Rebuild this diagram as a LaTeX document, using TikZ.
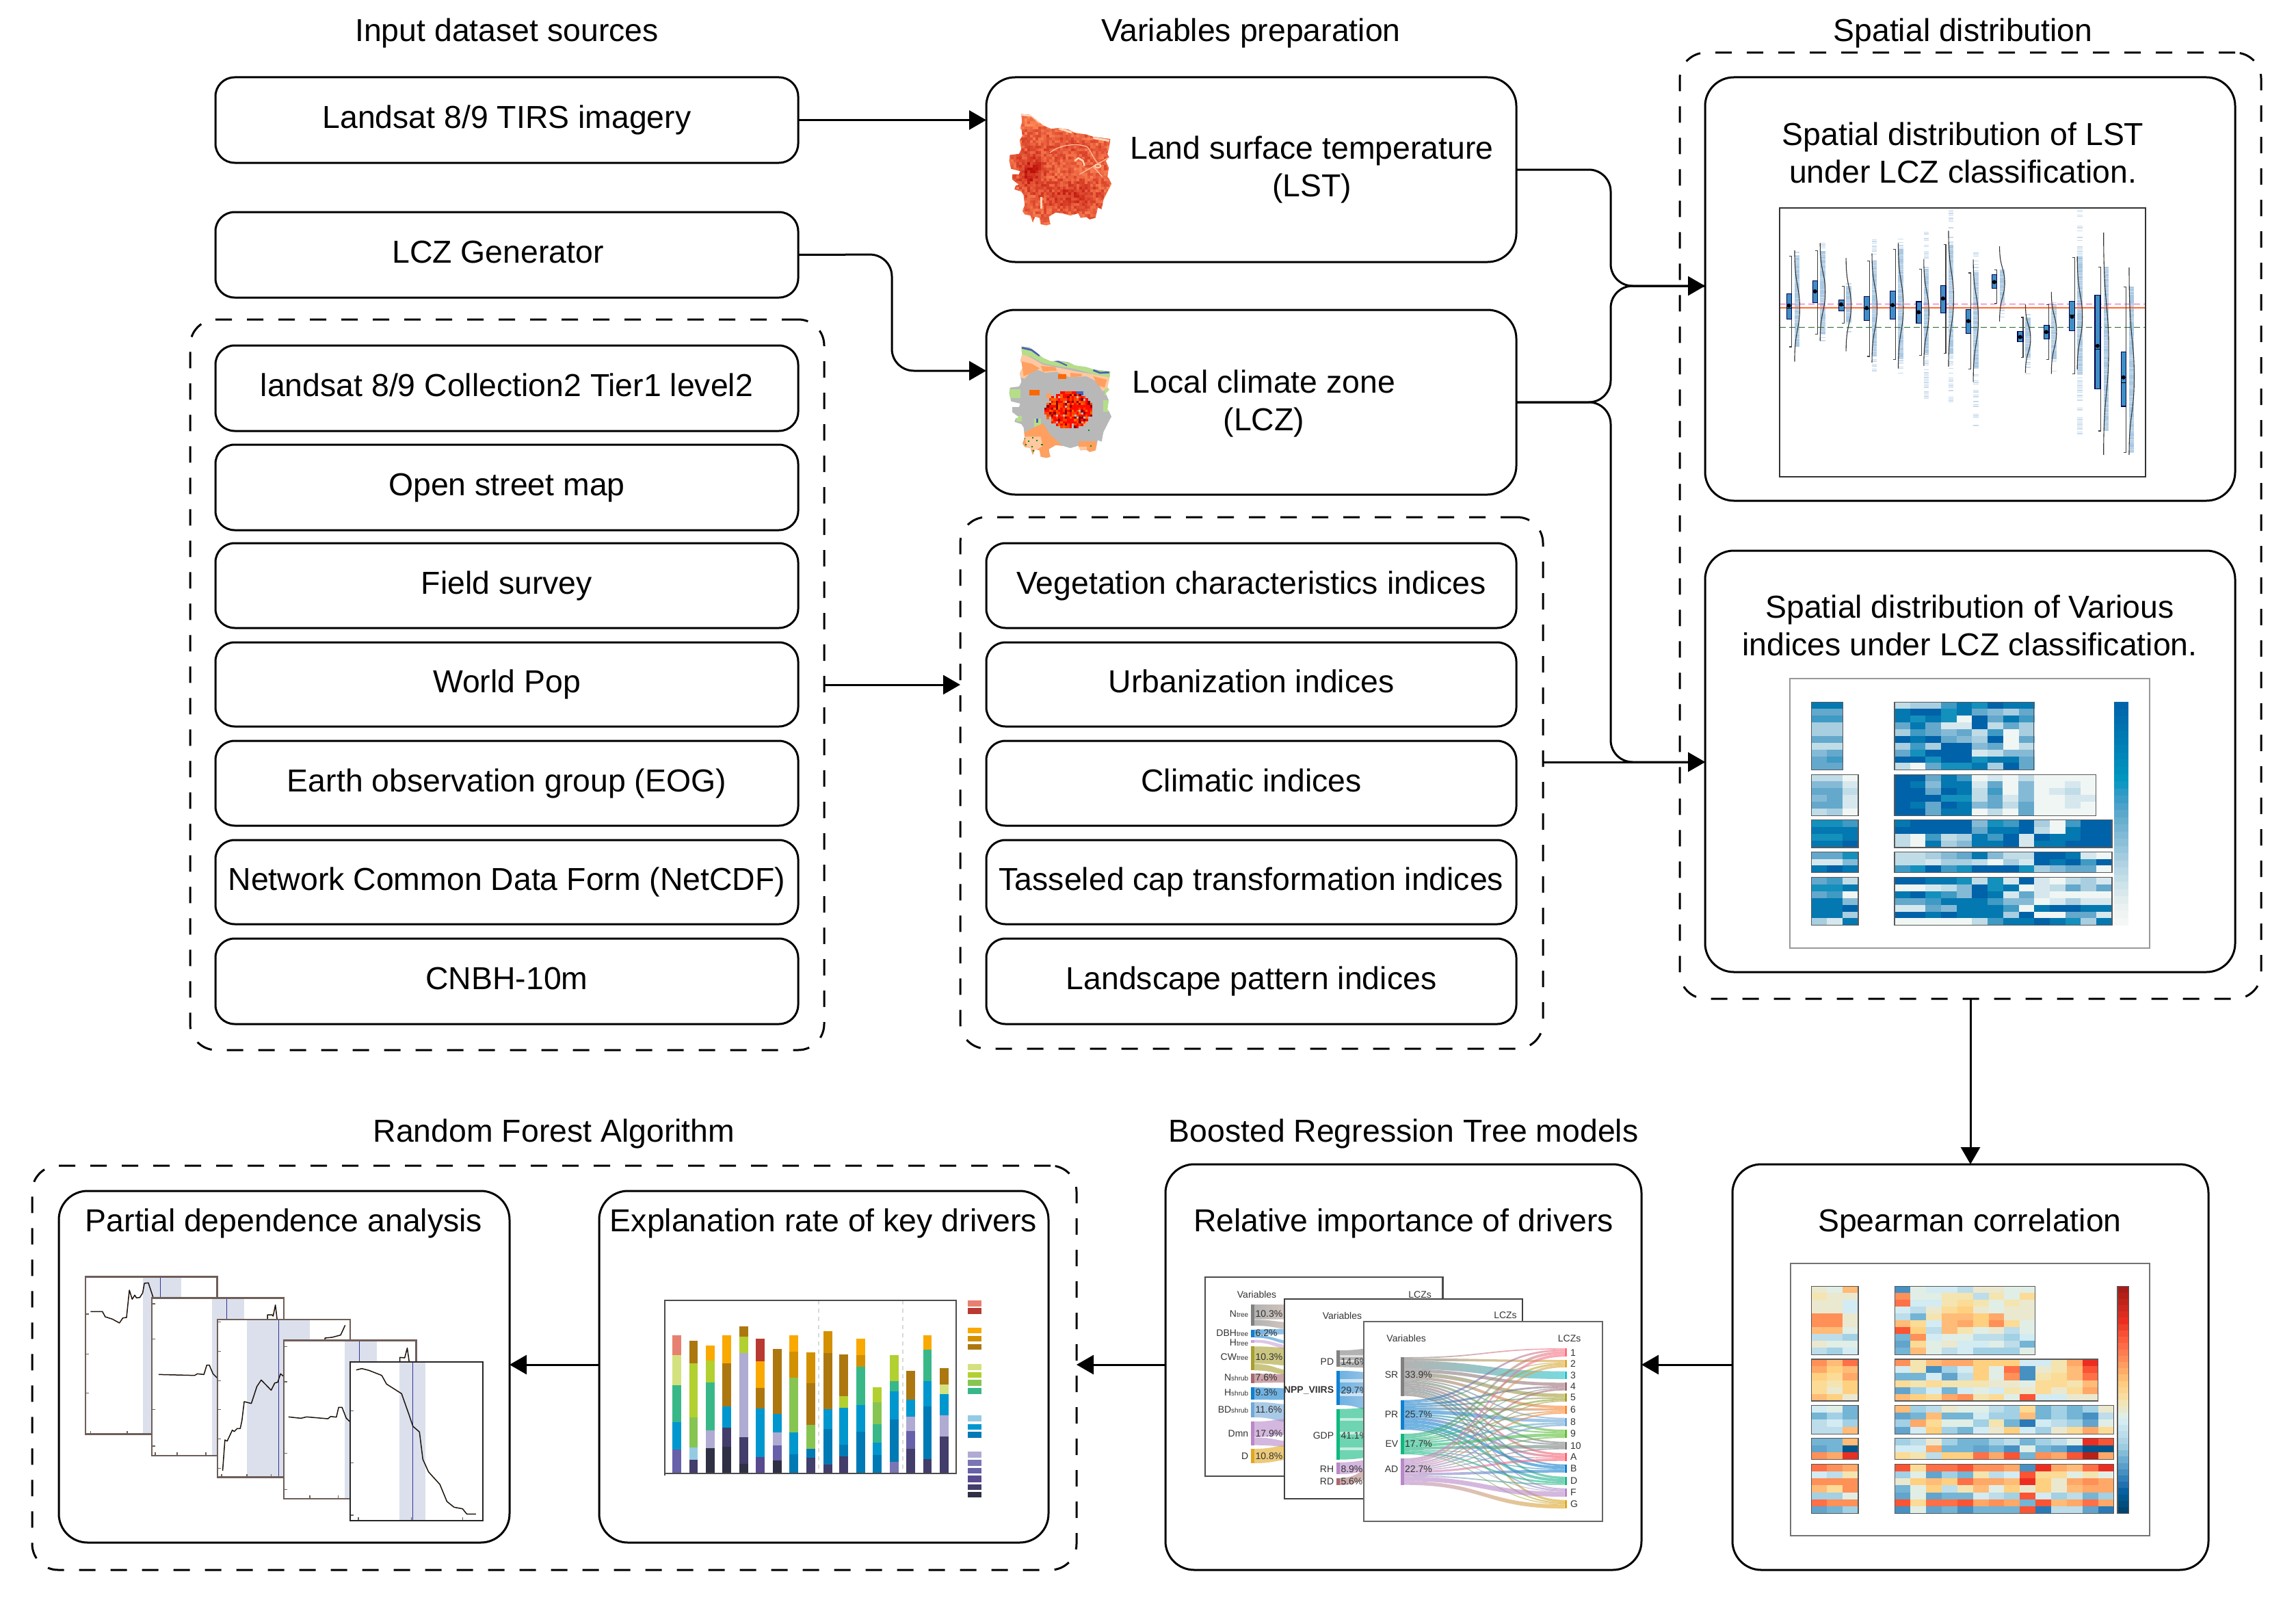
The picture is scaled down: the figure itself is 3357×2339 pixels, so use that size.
\documentclass[tikz,border=0pt]{standalone}
\usepackage{fontspec}
\setmainfont{Liberation Sans}
\usetikzlibrary{arrows.meta}
% blue heatmap palette
\definecolor{hb0}{HTML}{F0F6F4}\definecolor{hb1}{HTML}{D6E8EE}\definecolor{hb2}{HTML}{C0DCE6}
\definecolor{hb3}{HTML}{A8CEE0}\definecolor{hb4}{HTML}{85BAD6}\definecolor{hb5}{HTML}{64A8CC}
\definecolor{hb6}{HTML}{3F9AC4}\definecolor{hb7}{HTML}{1490BD}\definecolor{hb8}{HTML}{0478B0}\definecolor{hb9}{HTML}{0062A8}
% diverging palette
\definecolor{hr0}{HTML}{02558A}\definecolor{hr1}{HTML}{2A7AB8}\definecolor{hr2}{HTML}{4790C2}\definecolor{hr3}{HTML}{62A4CC}
\definecolor{hr4}{HTML}{74B4D4}\definecolor{hr5}{HTML}{A2D0E4}\definecolor{hr6}{HTML}{BCDDE9}\definecolor{hr7}{HTML}{D3EBF2}
\definecolor{hr8}{HTML}{E0EEE6}\definecolor{hr9}{HTML}{EBE8D0}\definecolor{hr10}{HTML}{F4E4B0}\definecolor{hr11}{HTML}{FBDB96}
\definecolor{hr12}{HTML}{FFD080}\definecolor{hr13}{HTML}{FFBC78}\definecolor{hr14}{HTML}{FFA868}\definecolor{hr15}{HTML}{FF9058}
\definecolor{hr16}{HTML}{FF7048}\definecolor{hr17}{HTML}{FA5434}\definecolor{hr18}{HTML}{EC2E22}\definecolor{hr19}{HTML}{B82018}
% stacked bars palette
\definecolor{bsal}{HTML}{E88072}\definecolor{bred}{HTML}{B93A32}\definecolor{org}{HTML}{FAA900}\definecolor{dor}{HTML}{D39000}
\definecolor{brn}{HTML}{AD7710}\definecolor{lim}{HTML}{D3E27F}\definecolor{lma}{HTML}{B2D030}\definecolor{grn}{HTML}{87C553}
\definecolor{teg}{HTML}{38B888}\definecolor{lbl}{HTML}{94CBE3}\definecolor{blu}{HTML}{0097CF}\definecolor{dbl}{HTML}{007AB5}
\definecolor{lav}{HTML}{AFABD2}\definecolor{pua}{HTML}{7A76B4}\definecolor{pub}{HTML}{6661A8}\definecolor{puc}{HTML}{594A90}
\definecolor{pud}{HTML}{423D6A}\definecolor{pue}{HTML}{2F3044}
% sankey colours
\definecolor{sgray}{HTML}{808080}\definecolor{sblue}{HTML}{1080D0}\definecolor{sgreen}{HTML}{10B880}\definecolor{spurp}{HTML}{B888C8}
\definecolor{tc1}{HTML}{FF7080}\definecolor{tc2}{HTML}{E0A830}\definecolor{tc3}{HTML}{20C0C8}\definecolor{tc4}{HTML}{A07078}
\definecolor{tc5}{HTML}{A8A030}\definecolor{tc6}{HTML}{FF8830}\definecolor{tc7}{HTML}{70A8D8}\definecolor{tc8}{HTML}{60C030}
\definecolor{tc9}{HTML}{808080}\definecolor{tc10}{HTML}{FF6070}\definecolor{tc11}{HTML}{1080D0}\definecolor{tc12}{HTML}{20B888}
\definecolor{tc13}{HTML}{B888C8}\definecolor{tc14}{HTML}{E0A820}
\definecolor{solive}{HTML}{A8A030}\definecolor{srose}{HTML}{A86870}\definecolor{ssteel}{HTML}{70A8D8}\definecolor{sgold}{HTML}{E0A820}
\definecolor{stan}{HTML}{C8A898}\definecolor{slil}{HTML}{C8A0D8}
% map and plot colours
\definecolor{lstA}{HTML}{BE0F0A}\definecolor{lstB}{HTML}{FF8A58}\definecolor{lstL}{HTML}{FFD8B8}
\definecolor{lczG}{HTML}{B8B8B8}\definecolor{lczO}{HTML}{FFA060}\definecolor{lczP}{HTML}{FFC8A0}\definecolor{lczL}{HTML}{B4DE88}\definecolor{lczB}{HTML}{4C60B8}
\definecolor{boxblue}{HTML}{3F8FC4}\definecolor{stripc}{HTML}{A9C8E2}\definecolor{pdband}{HTML}{DBE0EC}\definecolor{pdframe}{HTML}{6E5E58}
\tikzset{
  txt/.style={font=\fontsize{46.4}{55}\selectfont,align=center,inner sep=0pt},
  smallbox/.style={draw=black,line width=3pt,rounded corners=28pt,inner sep=0pt,outer sep=0pt,font=\fontsize{46.4}{55}\selectfont,align=center},
  bigbox/.style={smallbox,rounded corners=42pt},
  dashbox/.style={draw=black,line width=3pt,rounded corners=38pt,dash pattern=on 24pt off 22pt,inner sep=0pt,outer sep=0pt},
  conn/.style={draw=black,line width=3pt,-{Triangle[length=25pt,width=28pt]}},
  line/.style={draw=black,line width=3pt},
  hframe/.style={draw=black!65,line width=1.6pt},
  skt/.style={font=\fontsize{14}{16}\selectfont,text=black!80,inner sep=0pt},
  skr/.style={skt,anchor=east},
  skl/.style={skt,anchor=west},
  zoomC/.style={shift={(1740,1850)},x=0.43365pt,y=-0.33333pt},
  mapframe/.style={x=0.33333pt,y=-0.33333pt},
}
\newcommand\mapoutline{(85,35)--(120,38)--(150,60)--(180,85)--(215,100)--(250,97)--(290,103)--(320,118)--(370,125)--(400,135)--(440,140)--(475,145)--(470,180)--(462,210)--(470,225)--(455,240)--(468,270)--(462,310)--(470,320)--(480,342)--(465,370)--(445,410)--(437,452)--(420,445)--(410,490)--(385,497)--(370,487)--(345,490)--(335,470)--(300,480)--(265,470)--(235,467)--(205,485)--(212,518)--(195,523)--(170,518)--(165,490)--(145,485)--(135,510)--(125,480)--(100,475)--(90,460)--(100,435)--(95,390)--(85,375)--(55,365)--(60,350)--(75,345)--(45,322)--(45,300)--(75,300)--(80,285)--(40,275)--(32,240)--(35,215)--(75,210)--(85,190)--(78,150)--(90,130)--(85,100)--(80,100)--(88,70)--cycle}
\newcommand\boxnode[7]{\node[#6,minimum width={(#4-#2)*1pt},minimum height={(#5-#3)*1pt}] (#1) at ({(#2+#4)/2},{(#3+#5)/2}) {#7\vphantom{(gy}};}
\newcommand\heatblock[6]{\foreach \rw [count=\hi from 0] in {#6}{\foreach \cv [count=\hj from 0] in \rw {\fill[fill=#5\cv] ({#1+\hj*#3},{#2+\hi*#4}) rectangle +({#3+0.7},{#4+0.7});}}}
\newcommand\cbar[6]{\pgfmathsetmacro\cbs{(#4-#2)/#5}\foreach \hx [count=\hi from 0] in {#6}{\definecolor{cbtmp}{HTML}{\hx}\fill[fill=cbtmp] (#1,{#2+\hi*\cbs}) rectangle (#3,{#2+(\hi+1.05)*\cbs});}}
\newcommand\sflow[8]{\path[left color=#1,right color=#2,fill opacity=.6] (#3,#4) .. controls ({(#3+#6)/2},#4) and ({(#3+#6)/2},#7) .. (#6,#7) -- (#6,#8) .. controls ({(#3+#6)/2},#8) and ({(#3+#6)/2},#5) .. (#3,#5) -- cycle;}
\newcommand\srcflows[5]{\xdef\cury{#2}\pgfmathsetmacro\fac{#3/#4}\foreach \flw [count=\ii] in {#5}{\ifnum\flw>0\relax
  \pgfmathsetmacro\yend{\cury+\flw*\fac}\pgfmathsetmacro\tpa{\csname tp\ii\endcsname}\pgfmathsetmacro\tpb{\tpa+\flw}
  \sflow{#1}{tc\ii}{722}{\cury}{\yend}{1263}{\tpa}{\tpb}
  \expandafter\xdef\csname tp\ii\endcsname{\tpb}\xdef\cury{\yend}\fi}}
\newcommand\stackbar[3]{\xdef\curtop{#2}\foreach \cc/\bt in {#3}{\fill[fill=\cc] ({#1-19.5},\curtop) rectangle ({#1+19.5},\bt);\xdef\curtop{\bt}}}
\newcommand\pdpanel[7]{\fill[white] (#1,#2) rectangle (#3,#4);\fill[pdband] (#5,#2) rectangle (#6,#4);\draw[blue!50!black!80,line width=1.4pt] (#7,#2) -- (#7,#4);}
\newcommand\subt[2]{#1{\fontsize{10}{10}\selectfont #2}}
\begin{document}
\begin{tikzpicture}[x=1pt,y=-1pt]
\useasboundingbox (0,0) rectangle (3357,2339);
\fill[white] (0,0) rectangle (3357,2339);
% titles
\node[txt] (t1) at (741,49) {Input dataset sources};
\node[txt] (t2) at (1829,49) {Variables preparation};
\node[txt] (t3) at (2870,49) {Spatial distribution};
\node[txt] (t4) at (810,1657) {Random Forest Algorithm};
\node[txt] (t5) at (2052,1657) {Boosted Regression Tree models};
% dashed groups
\boxnode{dl}{278}{467}{1205}{1535}{dashbox}{}
\boxnode{dm}{1404}{756}{2256}{1533}{dashbox}{}
\boxnode{dr}{2456}{77}{3306}{1460}{dashbox}{}
\boxnode{db}{47}{1704}{1574}{2295}{dashbox}{}
% source boxes
\boxnode{landsat}{315}{113}{1167}{238}{smallbox}{Landsat 8/9 TIRS imagery}
\boxnode{gen}{315}{310}{1167}{435}{smallbox}{\hspace*{-26pt}LCZ Generator}
\boxnode{c1}{315}{505}{1167}{630}{smallbox}{landsat 8/9 Collection2 Tier1 level2}
\boxnode{c2}{315}{650}{1167}{775}{smallbox}{Open street map}
\boxnode{c3}{315}{794}{1167}{918}{smallbox}{Field survey}
\boxnode{c4}{315}{939}{1167}{1062}{smallbox}{World Pop}
\boxnode{c5}{315}{1083}{1167}{1207}{smallbox}{Earth observation group (EOG)}
\boxnode{c6}{315}{1228}{1167}{1351}{smallbox}{Network Common Data Form (NetCDF)}
\boxnode{c7}{315}{1372}{1167}{1497}{smallbox}{CNBH-10m}
% variable boxes
\boxnode{lst}{1442}{113}{2217}{383}{bigbox}{}
\boxnode{lcz}{1442}{453}{2217}{723}{bigbox}{}
\node[txt] (lsttxt) at (1918,248) {Land surface temperature\\(LST)};
\node[txt] (lcztxt) at (1848,590) {Local climate zone\\(LCZ)};
\boxnode{m1}{1442}{794}{2217}{918}{smallbox}{Vegetation characteristics indices}
\boxnode{m2}{1442}{939}{2217}{1062}{smallbox}{Urbanization indices}
\boxnode{m3}{1442}{1083}{2217}{1207}{smallbox}{Climatic indices}
\boxnode{m4}{1442}{1228}{2217}{1351}{smallbox}{Tasseled cap transformation indices}
\boxnode{m5}{1442}{1372}{2217}{1497}{smallbox}{Landscape pattern indices}
% spatial boxes
\boxnode{s1}{2493}{113}{3268}{732}{bigbox}{}
\boxnode{s2}{2493}{805}{3268}{1421}{bigbox}{}
\node[txt] (s1txt) at (2870,223) {Spatial distribution of LST\\under LCZ classification.};
\node[txt] (s2txt) at (2880,914) {Spatial distribution of Various\\indices under LCZ classification.};
% bottom boxes
\boxnode{spear}{2533}{1702}{3229}{2295}{bigbox}{}
\boxnode{rel}{1704}{1702}{2400}{2295}{bigbox}{}
\boxnode{expl}{876}{1741}{1533}{2255}{bigbox}{}
\boxnode{pda}{86}{1741}{745}{2255}{bigbox}{}
\node[txt] (speartxt) at (2880,1788) {Spearman correlation};
\node[txt] (reltxt) at (2052,1788) {Relative importance of drivers};
\node[txt] (expltxt) at (1204,1788) {Explanation rate of key drivers};
\node[txt] (pdatxt) at (415,1788) {Partial dependence analysis};
% connectors
\coordinate (lczin) at (1442,542);
\coordinate (s1in) at (2493,418);
\coordinate (s2in) at (2493,1114);
\coordinate (dmout) at (2256,1114);
\coordinate (busx) at (2355,588);
\coordinate (row) at (0,1995);
\draw[conn] (landsat.east) -- (landsat.east -| lst.west);
\draw[conn,rounded corners=32pt] (gen.east) -- (1304,372) -- (1304,542) -- (lczin);
\draw[conn,rounded corners=32pt] (lst.east) -- (2355,248) -- (2355,418) -- (s1in);
\draw[line,rounded corners=32pt] (lcz.east) -- (busx) -- (2355,418) -- (s1in);
\draw[conn,rounded corners=32pt] (lcz.east) -- (busx) -- (2355,1114) -- (s2in);
\draw[conn] (dl.east) -- (dl.east -| dm.west);
\draw[conn] (dmout) -- (s2in);
\draw[conn] (dr.south) -- (spear.north);
\draw[conn] (spear.west |- row) -- (rel.east |- row);
\draw[conn] (rel.west |- row) -- (db.east |- row);
\draw[conn] (expl.west |- row) -- (pda.east |- row);
% ---------- LST map
\begin{scope}[shift={(1465,155)},mapframe]
\clip \mapoutline;
\fill[lstB] (20,20) rectangle (490,530);
\pgfmathsetseed{4242}
\foreach \cx in {28,40,...,484}{\foreach \cy in {30,42,...,522}{
 \pgfmathsetmacro\pp{int(min(100,max(0,5+50*rnd+55*exp(0-((\cx-120)/55)^2-((\cy-285)/70)^2)+40*exp(0-((\cx-300)/120)^2-((\cy-385)/60)^2)+15*exp(0-((\cx-250)/170)^2-((\cy-190)/60)^2)-(\cy<90?15:0))))}
 \fill[fill=lstA!\pp!lstB] (\cx,\cy) rectangle ++(12.5,12.5);}}
\draw[lstL!70!lstB,line width=1.2pt] (210,205) .. controls (250,170) and (330,160) .. (375,180) .. controls (395,205) and (400,230) .. (420,250);
\draw[lstL!70!lstB,line width=1.2pt] (340,300) -- (400,265) -- (470,225);
\draw[lstL!70!lstB,line width=1.2pt] (400,265) -- (440,310);
\draw[lstL,line width=2.4pt] (320,240) -- (335,228) -- (355,240) -- (362,262);
\draw[lstL,line width=1.6pt] (420,263) ellipse[x radius=13,y radius=8];
\draw[lstL,line width=3pt] (172,400) -- (172,450);
\draw[lstL,line width=3pt] (85,38) -- (130,42) -- (165,72);
\draw[lstL,line width=3pt] (250,98) -- (305,116);
\draw[lstL,line width=3pt] (400,140) -- (470,152);
\end{scope}
% ---------- LCZ map
\begin{scope}[shift={(1465,495)},mapframe]
\clip \mapoutline;
\fill[lczG] (20,20) rectangle (490,530);
% peach and orange belts
\fill[lczP] (78,60)--(130,85)--(180,115)--(260,130)--(330,145)--(480,170)--(470,225)--(440,230)--(420,190)--(370,165)--(300,170)--(240,145)--(190,150)--(140,130)--(100,175)--(78,170)--cycle;
\fill[lczO] (85,100)--(130,110)--(165,130)--(130,150)--(95,165)--cycle;
\fill[lczO] (400,165)--(460,180)--(450,215)--(420,205)--cycle;
\fill[lczO] (170,120)--(235,125)--(240,140)--(180,145)--cycle;
\fill[lczO] (300,150)--(350,155)--(350,165)--(300,170)--cycle;
\fill[orange!80!red] (245,155) rectangle (282,178);
\fill[lczL] (85,30)--(150,52)--(215,92)--(320,112)--(480,142)--(480,172)--(400,155)--(320,133)--(250,122)--(180,108)--(130,80)--(85,68)--cycle;
\fill[lczL] (30,222) rectangle (82,262);
\fill[lczL] (62,340) rectangle (88,362);
\fill[lczL] (450,220) rectangle (480,250);
\fill[lczL] (445,270) rectangle (480,320);
\fill[lczL] (140,350) rectangle (170,400);
\draw[lczB,line width=2.8pt] (88,40) -- (130,50) -- (165,75);
\draw[lczB,line width=2pt] (215,92) -- (250,102) -- (285,118);
\draw[lczB,line width=2.8pt] (400,138) -- (430,150) -- (470,148);
\fill[lczB] (320,230) rectangle (358,248);
\fill[lczB] (150,350) rectangle (158,368);
% lower orange patches
\fill[lczO] (92,415)--(150,385)--(180,372)--(210,420)--(265,470)--(205,490)--(215,530)--(160,530)--(100,480)--(88,450)--cycle;
\fill[lczP] (100,430)--(170,430)--(178,470)--(150,490)--(110,480)--cycle;
\fill[lczO] (335,450)--(412,450)--(420,500)--(340,498)--cycle;
\fill[lczP] (335,475) rectangle (372,498);
\fill[orange!80!red] (120,225) rectangle (165,250);
\fill[lczO] (195,240) rectangle (215,262);
\fill[lczO] (350,362) rectangle (372,378);
\foreach \gx/\gy in {95/435,114/448,102/462,128/470,118/482,135/488,150/445,172/462,132/432,378/398,386/468}{\fill[green!55!black] (\gx,\gy) rectangle ++(7,6);}
% urban core
\pgfmathsetseed{77}
\foreach \cx in {186,196,...,396}{\foreach \cy in {222,232,...,394}{
 \pgfmathsetmacro\pp{int(100*rnd)}
 \pgfmathsetmacro\dd{((\cx-288)/108)^2+((\cy-308)/84)^2+0.25*(abs(\cx-288)/108)*(abs(\cy-308)/84)}
 \ifdim\dd pt<1pt
  \ifnum\pp<38 \fill[fill=red!92!orange] (\cx,\cy) rectangle ++(10.5,10.5);\else
  \ifnum\pp<62 \fill[fill=orange!50!red] (\cx,\cy) rectangle ++(10.5,10.5);\else
  \ifnum\pp<76 \fill[fill=red!55!black] (\cx,\cy) rectangle ++(10.5,10.5);\else
  \ifnum\pp<90 \fill[fill=orange!80!red] (\cx,\cy) rectangle ++(10.5,10.5);\fi\fi\fi\fi
 \fi}}
\end{scope}
% ---------- Violin plot
\begin{scope}[shift={(2450,250)},x=0.574pt,y=-0.33333pt]
\fill[white] (264,163) rectangle (1196,1340);
\pgfmathsetseed{99}
\foreach \Vx/\Wt/\Wb/\St/\Sb in {303/373/771/348/770,368/350/715/315/745,434/505/667/465/720,500/395/813/300/885,567/343/826/290/890,632/430/808/232/1000,695/323/800/170/1010,758/447/868/330/1123,825/433/580/435/640,891/642/817/628/902,957/586/826/575/890,1023/379/890/170/1165,1090/421/1140/420/1140,1155/508/1235/505/1235}{
 \fill[stripc] (\Vx,\Wt) rectangle ({\Vx+13},\Wb);
 \pgfmathsetmacro\Stn{\St+7}
 \foreach \yy in {\St,\Stn,...,\Sb}{\pgfmathsetmacro\kp{int(100*rnd)}
  \ifnum\kp<60 \fill[stripc!65!white] (\Vx,\yy) rectangle ({\Vx+13},{\yy+4});\fi}
}
\draw[magenta!70!white,line width=1.5pt,dash pattern=on 9pt off 5pt] (264,583) -- (1196,583);
\draw[red!45!orange!80!white,line width=2.4pt] (264,600) -- (1196,600);
\draw[green!30!black!85,line width=1.5pt,dash pattern=on 9pt off 5pt] (264,686) -- (1196,686);
\foreach \Bl/\Br/\Bt/\Bb/\Mn/\Md/\Wt/\Wb/\Vx/\Vt/\Vb/\Vm in {283/295/538/650/590/600/373/771/303/348/836/600,349/362/481/578/528/525/350/715/368/316/745/530,415/429/565/614/585/588/505/667/434/381/791/590,480/494/550/656/601/603/395/813/500/362/840/600,546/560/526/650/588/590/343/826/567/316/866/595,613/626/573/667/619/621/430/808/632/386/855/620,675/688/503/622/559/561/323/800/695/262/858/560,740/752/607/712/658/662/447/868/758/388/925/650,806/818/454/515/487/485/433/580/825/330/660/490,871/885/703/749/728/730/642/817/891/585/885/735,938/951/676/737/706/708/586/826/957/530/890/705,1003/1017/571/700/639/630/379/890/1023/375/870/640,1068/1082/544/955/767/780/421/1140/1090/270/1245/780,1135/1147/793/1032/905/928/508/1235/1155/423/1245/900}{
 \draw[black!75,line width=1.1pt] ({\Br-6},\Wt) -- (\Br,\Wt) -- (\Br,\Wb) -- ({\Br-6},\Wb);
 \draw[black!80,line width=1.1pt] (\Vx,\Vt) .. controls (\Vx,{\Vm-0.2*(\Vb-\Vt)}) and ({\Vx+13},{\Vm-0.2*(\Vb-\Vt)}) .. ({\Vx+13},\Vm) .. controls ({\Vx+13},{\Vm+0.2*(\Vb-\Vt)}) and (\Vx,{\Vm+0.2*(\Vb-\Vt)}) .. (\Vx,\Vb);
 \draw[fill=boxblue,draw=black!70!blue,line width=1.3pt] (\Bl,\Bt) rectangle (\Br,\Bb);
 \draw[black,line width=1pt] (\Bl,\Md) -- (\Br,\Md);
 \fill[black] ({(\Bl+\Br)/2-0.5},\Mn) circle[radius=3pt];
}
\draw[draw=black!80,line width=2pt] (264,163) rectangle (1196,1340);
\end{scope}
% ---------- Blue heatmap
\begin{scope}[shift={(2500,950)},x=0.5102pt,y=-0.33333pt]
\draw[draw=black!40,line width=2pt] (230,127) rectangle (1260,1308);
\heatblock{291}{229}{45}{29.7}{hb}{{8,8},{5,5},{6,6},{3,3},{3,3},{5,5},{2,2},{4,5},{5,6},{5,5}}
\heatblock{529}{229}{44.5}{29.7}{hb}{{2,3,3,6,8,7,9,8,8},{8,9,9,7,8,5,4,3,5},{8,7,8,7,0,9,5,8,6},{5,8,5,1,1,9,2,5,3},{3,6,5,4,5,2,6,0,3},{9,8,9,5,4,3,9,0,5},{3,6,3,9,9,4,5,0,2},{5,7,9,9,9,1,2,4,4},{9,9,7,9,9,7,8,8,5},{2,0,5,7,7,8,3,9,5}}
\heatblock{291}{547}{44.7}{30}{hb}{{2,2,0},{4,4,1},{5,5,2},{4,5,1},{5,5,1},{2,3,0}}
\heatblock{529}{547}{44.4}{30}{hb}{{9,9,5,8,6,0,1,0,2,0,0,0,0},{9,8,4,8,8,1,5,0,4,0,0,1,0},{9,9,5,9,8,2,6,0,4,0,1,2,0},{9,9,9,7,7,2,5,1,4,0,0,1,1},{9,8,5,9,8,4,5,2,5,0,0,1,0},{9,9,5,8,8,0,2,0,5,0,0,0,0}}
\heatblock{291}{745}{44.7}{30.5}{hb}{{7,7,6},{8,8,8},{7,7,8},{8,8,9}}
\heatblock{529}{745}{44.5}{30.5}{hb}{{8,9,9,9,9,4,7,6,9,3,0,6,9,9},{9,9,9,9,9,5,8,8,9,2,0,8,9,9},{2,0,6,2,3,8,6,9,1,9,8,8,9,9},{2,0,8,3,4,8,8,9,1,8,8,9,9,9}}
\heatblock{291}{887}{44.7}{29.7}{hb}{{5,5,7},{1,1,4},{8,9,8}}
\heatblock{529}{887}{44.5}{29.7}{hb}{{2,2,3,4,5,8,4,2,2,9,9,8,1,0},{2,2,1,3,3,2,0,3,1,9,8,9,6,9},{6,7,9,6,7,9,9,9,7,3,4,5,5,0}}
\heatblock{291}{998}{44.7}{29.9}{hb}{{5,6,2},{7,7,8},{5,6,0},{8,8,4},{8,8,9},{8,8,3},{3,1,8}}
\heatblock{529}{998}{44.5}{29.9}{hb}{{9,9,8,8,7,2,7,1,9,1,0,2,3,1},{0,0,1,2,4,9,7,8,0,1,2,5,3,5},{8,9,7,6,4,9,8,1,5,1,0,0,0,0},{5,5,6,8,8,8,6,4,4,0,1,3,1,1},{1,1,5,4,8,8,8,6,0,8,9,9,8,8},{9,9,8,9,8,8,8,3,9,0,0,5,5,1},{0,0,0,0,0,2,6,8,8,9,8,7,3,8}}
\foreach \xa/\ya/\xb/\yb in {291/229/381/526,529/229/928/526,291/547/425/727,529/547/1106/727,291/745/425/867,529/745/1152/867,291/887/425/976,529/887/1152/976,291/998/425/1207,529/998/1152/1207}{\draw[hframe] (\xa,\ya) rectangle (\xb,\yb);}
\cbar{1159}{229}{1200}{1207}{31}{0064AA,0068AC,006EAE,0072B0,0078B2,007CB4,0082B6,0086B8,008CBA,0090BC,0096C0,1098C2,2C9AC6,3C9EC8,4CA2CA,5CA8CC,68AECF,74B4D2,80BAD6,8CC0D8,98C6DC,A4CCE0,B0D2E2,BAD8E6,C4DEE8,CEE3EA,D8E8EC,E2EDEE,EAF1F0,F0F4F2,F4F7F5}
\end{scope}
% ---------- Spearman heatmap
\begin{scope}[shift={(2580,1820)},x=0.43365pt,y=-0.33333pt]
\draw[draw=black!55,line width=2pt] (87,80) rectangle (1298,1274);
\heatblock{158}{181}{52.6}{30}{hr}{{9,8,13},{10,9,9},{9,9,7},{9,9,7},{15,15,9},{15,15,9},{13,13,8},{6,6,5},{9,8,8},{6,5,7}}
\heatblock{439}{181}{52.7}{30}{hr}{{2,8,7,7,6,9,9,8,8},{15,8,8,10,10,6,10,8,11},{16,7,7,10,11,10,8,10,9},{7,6,9,11,12,9,8,9,9},{6,4,10,13,13,12,14,9,9},{13,11,7,13,14,12,15,11,8},{17,12,6,13,10,8,9,6,8},{4,15,7,8,8,6,6,5,7},{3,11,8,9,7,7,8,6,4},{4,13,8,6,7,5,5,5,8}}
\heatblock{158}{501}{52.6}{30.5}{hr}{{15,13,16},{14,12,13},{12,11,14},{11,10,12},{11,9,12},{13,12,9}}
\heatblock{439}{501}{52.7}{30.5}{hr}{{15,10,13,14,14,12,12,12,7,7,10,14,18},{7,10,2,5,7,12,8,16,2,9,10,13,17},{4,4,7,3,6,12,8,15,2,10,11,13,16},{11,10,11,10,10,10,9,9,8,11,11,10,13},{3,5,7,4,7,8,7,10,9,11,9,11,14},{13,12,11,14,15,10,11,8,17,7,7,9,9}}
\heatblock{158}{703}{52.6}{31.7}{hr}{{7,8,4},{4,5,4},{6,7,5},{6,6,13}}
\heatblock{439}{703}{52.7}{31.7}{hr}{{13,5,6,9,8,8,6,5,11,4,5,4,5,9},{3,4,13,4,4,7,5,5,13,4,5,4,2,6},{5,14,11,8,8,5,10,4,1,7,6,5,3,8},{3,7,12,5,4,7,9,12,7,5,9,11,14,11}}
\heatblock{158}{847}{52.6}{31.3}{hr}{{4,4,13},{3,4,0},{15,14,18}}
\heatblock{439}{847}{52.7}{31.3}{hr}{{5,6,9,5,4,4,5,6,4,5,6,8,18,17},{7,7,14,4,4,3,4,2,8,4,3,1,0,0},{11,10,6,12,12,16,14,17,4,15,14,17,19,14}}
\heatblock{158}{961}{52.6}{30.9}{hr}{{16,15,14},{7,6,10},{15,15,15},{13,11,15},{5,5,8},{16,15,15},{3,4,5}}
\heatblock{439}{961}{52.7}{30.9}{hr}{{17,11,16,16,17,15,15,14,2,18,14,13,16,18},{5,8,3,5,4,10,6,7,17,11,11,8,10,8},{9,12,13,12,16,14,14,13,18,12,9,14,15,14},{4,8,12,6,10,13,8,12,9,12,9,13,14,14},{3,8,3,4,4,7,6,5,17,7,5,6,4,5},{17,11,16,16,17,14,15,14,4,17,13,14,16,14},{2,8,3,4,2,4,4,4,17,1,6,6,3,1}}
\foreach \xa/\ya/\xb/\yb in {158/181/316/481,439/181/912/481,158/501/316/684,439/501/1124/684,158/703/316/830,439/703/1177/830,158/847/316/941,439/847/1177/941,158/961/316/1177,439/961/1177/1177}{\draw[hframe] (\xa,\ya) rectangle (\xb,\yb);}
\cbar{1190}{181}{1228}{1177}{36}{A81C18,B42018,C02418,CC2820,DC2C20,EC2E22,F04028,F85034,FF5C3C,FF6C48,FF7C50,FF8C58,FF9C60,FFAC68,FFBC74,FFCC80,FCD490,F8DCA0,F2E4B4,EAE8CC,E0EEE6,D4ECF2,C8E4EE,BCDDE9,ACD4E6,9CCCE2,84BCD8,6CAED2,5A9ECA,4490C2,3080BA,2070B0,0860A0,005890,004E80,004470}
\draw[hframe] (1190,181) rectangle (1228,1177);
\end{scope}
% ---------- Sankey panels
\begin{scope}[zoomC]
% panel A
\draw[fill=white,draw=black!70,line width=2pt] (50,52) rectangle (852,924);
\node[skt] (vA) at (225,127) {Variables};
\node[skt] (lA) at (775,127) {LCZs};
\sflow{sgray}{stan}{217}{171}{236}{360}{172}{236}
\sflow{sgray}{stan}{217}{238}{264}{360}{250}{280}
\sflow{sblue}{ssteel}{217}{281}{305}{360}{276}{300}
\sflow{sblue}{ssteel}{217}{306}{316}{360}{332}{348}
\sflow{slil}{slil}{217}{326}{338}{360}{352}{372}
\sflow{solive}{solive}{217}{355}{430}{360}{362}{440}
\sflow{solive}{solive}{217}{432}{460}{360}{462}{482}
\sflow{srose}{srose}{217}{474}{515}{360}{478}{512}
\sflow{sblue}{sblue}{217}{534}{588}{360}{540}{590}
\sflow{ssteel}{ssteel}{217}{599}{666}{360}{610}{690}
\sflow{spurp}{spurp}{217}{684}{752}{360}{670}{740}
\sflow{spurp}{spurp}{217}{754}{788}{360}{772}{796}
\sflow{sgold}{sgold}{217}{804}{867}{360}{785}{850}
\foreach \ya/\yb/\cc in {171/264/sgray,281/316/sblue,326/338/slil,355/460/solive,474/515/srose,534/588/sblue,599/666/ssteel,684/788/spurp,804/867/sgold}{\fill[fill=\cc] (206,\ya) rectangle (217,\yb);}
\foreach \yy/\ttx in {213/10.3\%,297/6.2\%,402/10.3\%,492/7.6\%,558/9.3\%,632/11.6\%,737/17.9\%,836/10.8\%}{\node[skl] at (220,\yy) {\ttx};}
\node[skr] at (197,213) {\subt{N}{tree}};
\node[skr] at (197,297) {\subt{DBH}{tree}};
\node[skr] at (197,338) {\subt{H}{tree}};
\node[skr] at (197,402) {\subt{CW}{tree}};
\node[skr] at (197,492) {\subt{N}{shrub}};
\node[skr] at (197,558) {\subt{H}{shrub}};
\node[skr] at (197,632) {\subt{BD}{shrub}};
\node[skr] at (197,737) {Dmn};
\node[skr] at (197,836) {D};
% panel B
\draw[fill=white,draw=black!75,line width=2pt] (318,148) rectangle (1121,1022);
\node[skt] (vB) at (513,219) {Variables};
\node[skt] (lB) at (1063,219) {LCZs};
\sflow{sgray}{sgray}{506}{372}{445}{640}{362}{450}
\sflow{sblue}{ssteel}{506}{462}{612}{640}{470}{640}
\sflow{sgreen}{sgreen}{506}{629}{851}{640}{620}{840}
\sflow{spurp}{spurp}{506}{863}{915}{640}{850}{895}
\sflow{srose}{stan}{506}{932}{963}{640}{880}{930}
\foreach \ya/\yb in {395/400,415/420,500/510,560/570,670/680,730/738,800/808}{\sflow{white}{white}{506}{\ya}{\yb}{640}{\ya}{\yb}}
\foreach \ya/\yb/\cc in {372/445/sgray,462/612/sblue,629/851/sgreen,863/915/spurp,932/963/srose}{\fill[fill=\cc] (494,\ya) rectangle (506,\yb);}
\foreach \yy/\ttx in {423/14.6\%,547/29.7\%,747/41.1\%,894/8.9\%,946/5.6\%}{\node[skl] at (508,\yy) {\ttx};}
\node[skr] at (485,423) {PD};
\node[skr,font=\fontsize{14}{16}\selectfont\bfseries] at (485,547) {NPP\_VIIRS};
\node[skr] at (485,747) {GDP};
\node[skr] at (485,894) {RH};
\node[skr] at (485,946) {RD};
% panel C
\draw[fill=white,draw=black!60,line width=2pt] (585,246) rectangle (1390,1121);
\node[skt] (vC) at (729,319) {Variables};
\node[skt] (lC) at (1279,319) {LCZs};
\foreach \ii/\yy in {1/363,2/414,3/464,4/514,5/562,6/615,7/668,8/720,9/773,10/823,11/872,12/926,13/977,14/1028}{\expandafter\xdef\csname tp\ii\endcsname{\yy}}
\srcflows{sgray}{402}{170}{159}{5,10,34,14,16,12,6,10,8,10,8,10,6,10}
\srcflows{sblue}{590}{130}{108}{8,4,0,8,6,10,14,6,6,10,12,12,6,6}
\srcflows{sgreen}{738}{90}{98}{12,9,0,4,8,6,8,14,14,4,4,8,3,4}
\srcflows{spurp}{846}{116}{129}{12,10,0,8,5,7,8,6,5,10,12,6,22,18}
\foreach \ya/\yb/\cc in {402/572/sgray,590/720/sblue,738/828/sgreen,846/962/spurp}{\fill[fill=\cc] (711,\ya) rectangle (722,\yb);}
\foreach \ya/\yb/\cc/\lb [count=\ii] in {363/400/1/1,414/447/2/2,464/498/3/3,514/548/4/4,562/597/5/5,615/650/6/6,668/704/7/8,720/756/8/9,773/806/9/10,823/857/10/A,872/908/11/B,926/962/12/D,977/1014/13/F,1028/1066/14/G}{
 \fill[fill=tc\cc] (1263,\ya) rectangle (1271,\yb);
 \node[skl] at (1282,{(\ya+\yb)/2}) {\lb};}
\foreach \yy/\ttx in {480/33.9\%,652/25.7\%,782/17.7\%,893/22.7\%}{\node[skl] at (724,\yy) {\ttx};}
\node[skr] at (702,480) {SR};
\node[skr] at (702,652) {PR};
\node[skr] at (702,782) {EV};
\node[skr] at (702,893) {AD};
\end{scope}
% ---------- Stacked bars
\begin{scope}[shift={(950,1880)},x=0.33167pt,y=-0.33333pt]
\draw[black!15,line width=2pt,dash pattern=on 6pt off 6pt] (745,64) -- (745,823);
\draw[black!15,line width=2pt,dash pattern=on 6pt off 6pt] (1115,64) -- (1115,823);
\stackbar{118}{216}{bsal/303,lim/436,teg/597,blu/718,pub/823}
\stackbar{193}{241}{brn/339,lma/575,grn/707,lbl/763,pud/823}
\stackbar{266}{261}{org/328,lma/423,teg/632,lav/712,pue/823}
\stackbar{340}{216}{org/340,brn/527,blu/620,pud/705,pue/823}
\stackbar{415}{177}{brn/221,lma/295,lav/662,pud/780,pue/823}
\stackbar{488}{231}{bred/330,org/448,brn/538,blu/750,puc/823}
\stackbar{562}{277}{brn/561,blu/643,lav/700,pub/764,pue/823}
\stackbar{635}{216}{org/289,dor/403,grn/642,blu/737,dbl/823}
\stackbar{710}{290}{dor/426,brn/609,grn/714,dbl/754,pud/823}
\stackbar{785}{197}{dor/294,brn/541,blu/626,dbl/783,pud/823}
\stackbar{856}{301}{brn/482,lma/534,blu/696,dbl/747,pud/823}
\stackbar{930}{231}{org/303,dor/355,teg/522,blu/640,dbl/823}
\stackbar{1003}{443}{lma/510,grn/605,teg/687,blu/740,dbl/823}
\stackbar{1078}{303}{lma/417,teg/462,blu/585,dbl/772,pua/823}
\stackbar{1150}{372}{brn/497,blu/574,lav/636,pub/714,pud/823}
\stackbar{1224}{216}{org/279,teg/417,blu/528,dbl/759,pud/823}
\stackbar{1298}{360}{brn/432,lim/474,blu/568,lav/659,pud/823}
\draw[draw=black!70,line width=2pt] (67,832) -- (67,64) -- (1352,64) -- (1352,823) -- (67,823);
\foreach \ya/\yb/\cc in {64/90/bsal,97/124/bred,182/208/org,218/243/dor,254/279/brn,342/369/lim,377/403/lma,412/438/grn,447/473/teg,567/594/lbl,605/631/blu,640/666/dbl,726/753/lav,763/790/pua,797/823/pub,832/860/puc,869/895/pud,903/928/pue}{\fill[fill=\cc] (1403,\ya) rectangle (1461,\yb);}
\end{scope}
% ---------- Partial dependence panels
\begin{scope}[shift={(100,1840)},x=0.41459pt,y=-0.33333pt]
\tikzset{pdline/.style={draw=black!85!brown,line width=1.5pt,line join=round},pdtick/.style={draw=pdframe,line width=1.5pt},pdbox/.style={draw=pdframe,line width=2.4pt}}
% panel 1
\pdpanel{60}{80}{525}{770}{262}{398}{325}
\draw[pdline] (78,232)--(120,232)--(130,255)--(155,265)--(180,282)--(192,260)--(205,258)--(215,138)--(225,178)--(234,160)--(240,172)--(252,170)--(262,150)--(268,108)--(282,106)--(295,155)--(300,175);
\foreach \yy in {243,418,590}{\draw[pdtick] (60,\yy) -- (72,\yy);}
\foreach \xx in {78,208}{\draw[pdtick] (\xx,770) -- (\xx,755);}
\draw[pdbox] (60,80) rectangle (525,770);
% panel 2
\pdpanel{294}{172}{760}{864}{507}{620}{558}
\draw[pdline] (318,508)--(445,512)--(455,505)--(478,508)--(488,467)--(497,467)--(510,505)--(526,525);
\draw[pdline] (702,266)--(702,246)--(718,246)--(722,252)--(730,203)--(736,266);
\foreach \yy in {198,352,662,822}{\draw[pdtick] (294,\yy) -- (306,\yy);}
\foreach \xx in {306,384,485}{\draw[pdtick] (\xx,864) -- (\xx,849);}
\draw[pdbox] (294,172) rectangle (760,864);
% panel 3
\pdpanel{526}{267}{993}{959}{630}{852}{742}
\draw[pdline] (544,930)--(552,795)--(560,800)--(578,752)--(585,758)--(595,745)--(606,745)--(612,710)--(620,627)--(645,635)--(665,560)--(680,532)--(715,577)--(728,545)--(738,542)--(748,505)--(758,515);
\draw[pdline] (905,358)--(905,348)--(930,345)--(960,335)--(976,292);
\foreach \yy in {278,407,535,662,790,920}{\draw[pdtick] (526,\yy) -- (538,\yy);}
\foreach \xx in {540,630,715}{\draw[pdtick] (\xx,959) -- (\xx,944);}
\draw[pdbox] (526,267) rectangle (993,959);
% panel 4
\pdpanel{760}{359}{1226}{1053}{974}{1088}{1026}
\draw[pdline] (776,694)--(820,700)--(840,694)--(915,702)--(925,692)--(945,695)--(953,652)--(965,652)--(980,700)--(993,715);
\draw[pdline] (1169,454)--(1169,433)--(1186,435)--(1195,392)--(1202,454);
\foreach \yy in {385,540,853,1012}{\draw[pdtick] (760,\yy) -- (772,\yy);}
\foreach \xx in {851,951}{\draw[pdtick] (\xx,1053) -- (\xx,1038);}
\draw[pdbox] (760,359) rectangle (1226,1053);
% panel 5
\pdpanel{993}{454}{1461}{1150}{1168}{1260}{1214}
\draw[pdline] (1015,488)--(1035,482)--(1060,490)--(1105,512)--(1122,550)--(1175,592)--(1200,680)--(1215,735)--(1238,760)--(1250,880)--(1270,935)--(1310,990)--(1335,1065)--(1360,1090)--(1390,1097)--(1405,1120)--(1437,1120);
\foreach \yy in {667,895,1125}{\draw[pdtick] (993,\yy) -- (1005,\yy);}
\foreach \xx in {1023,1210,1390,1460}{\draw[pdtick] (\xx,1150) -- (\xx,1135);}
\draw[draw=black!85,line width=2pt] (993,454) rectangle (1461,1150);
\end{scope}
\end{tikzpicture}
\end{document}
